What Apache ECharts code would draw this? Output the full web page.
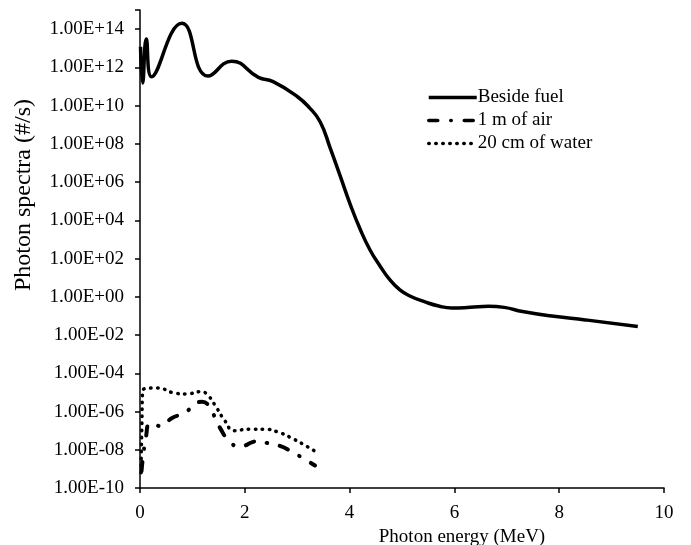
<!DOCTYPE html>
<html>
<head>
<meta charset="utf-8">
<script src="https://cdn.jsdelivr.net/npm/echarts@6/dist/echarts.min.js"></script>
<style>html,body{margin:0;padding:0;background:#fff}#c{width:691px;height:545px}</style>
</head>
<body>
<div id="c"></div>
<script>
// Photon energy (MeV) and spectra (#/s)
const fuelEnergy = [0.01, 0.05, 0.12, 0.22, 0.80, 1.30, 1.75, 2.26, 2.54, 3.00, 3.24, 3.44, 3.63, 3.82, 4.01, 4.20, 4.39, 4.58, 4.77, 4.96, 5.15, 5.44, 5.70, 5.95, 6.30, 6.65, 6.95, 7.30, 7.90, 8.50, 9.50];
const fuelValue  = [1.2e13, 1.5e11, 3.0e13, 3.2e11, 2.0e14, 3.5e11, 2.1e12, 3.0e11, 1.8e11, 3.0e10, 7.4e9, 1.4e9, 6.0e7, 2.1e6, 7.1e4, 3.5e3, 2.8e2, 41, 7.6, 2.3, 1.1, 0.54, 0.33, 0.26, 0.28, 0.32, 0.28, 0.17, 0.095, 0.062, 0.028];

const airEnergy = [0.03, 0.115, 0.20, 0.41, 0.605, 0.86, 1.05, 1.18, 1.30, 1.43, 1.54, 1.69, 1.90, 2.16, 2.29, 2.41, 2.67, 2.90, 3.12, 3.34];
const airValue  = [8.0e-10, 4.8e-8, 2.4e-7, 1.7e-7, 4.5e-7, 8.7e-7, 2.5e-6, 3.2e-6, 2.2e-6, 5.0e-7, 1.2e-7, 3.2e-8, 1.4e-8, 2.6e-8, 2.9e-8, 2.3e-8, 1.6e-8, 7.9e-9, 3.5e-9, 1.5e-9];

const waterEnergy = [0.02, 0.035, 0.06, 0.35, 0.62, 0.89, 1.16, 1.29, 1.46, 1.61, 1.80, 2.09, 2.37, 2.64, 2.90, 3.15, 3.40];
const waterValue  = [6.3e-10, 1.6e-7, 1.4e-5, 1.7e-5, 9.8e-6, 8.3e-6, 1.1e-5, 7.4e-6, 1.6e-6, 3.6e-7, 1.0e-7, 1.2e-7, 1.2e-7, 8.3e-8, 4.0e-8, 1.7e-8, 6.6e-9];

const seriesNames = ['Beside fuel', '1 m of air', '20 cm of water'];
const xTicks = [0, 2, 4, 6, 8, 10];

function pairs(xs, ys) { return xs.map((x, i) => [x, ys[i]]); }

const FONT = 'Liberation Serif';
const chart = echarts.init(document.getElementById('c'));
chart.setOption({
  animation: false,
  backgroundColor: '#fff',
  textStyle: { fontFamily: FONT, color: '#000' },
  grid: { left: 140, right: 27, top: 10, bottom: 57, containLabel: false, outerBoundsMode: 'none' },
  legend: {
    orient: 'vertical',
    left: 427, top: 88, padding: 0,
    itemWidth: 48, itemHeight: 14, itemGap: 4,
    itemStyle: { color: 'rgba(0,0,0,0)', borderWidth: 0, opacity: 0 },
    lineStyle: { width: 3.5 },
    textStyle: { fontFamily: FONT, fontSize: 19, color: '#000', padding: [0, 0, 0, -4] },
    data: seriesNames
  },
  xAxis: {
    type: 'value', min: xTicks[0], max: xTicks[xTicks.length - 1], interval: 2,
    name: 'Photon energy (MeV)', nameLocation: 'middle', nameGap: 38,
    nameTextStyle: { fontFamily: FONT, fontSize: 19, color: '#000', padding: [0, 0, 0, 120] },
    axisLine: { lineStyle: { color: '#000', width: 1.5 } },
    axisTick: { show: true, inside: false, length: 5, lineStyle: { color: '#000', width: 1.5 } },
    axisLabel: { fontFamily: FONT, fontSize: 19, color: '#000', margin: 16 },
    splitLine: { show: false }
  },
  yAxis: {
    type: 'log', logBase: 10, min: 1e-10, max: 1e15, interval: 2,
    name: 'Photon spectra (#/s)', nameLocation: 'middle', nameGap: 104, nameRotate: 90,
    nameTextStyle: { fontFamily: FONT, fontSize: 24, color: '#000', padding: [0, 0, 0, 108] },
    axisLine: { show: true, lineStyle: { color: '#000', width: 1.5 } },
    axisTick: { show: true, inside: false, length: 5, lineStyle: { color: '#000', width: 1.5 } },
    axisLabel: {
      fontFamily: FONT, fontSize: 19, color: '#000', margin: 16,
      formatter: function (v) {
        const l = Math.log10(v);
        const e = Math.round(l);
        if (Math.abs(l - e) > 1e-6 || e % 2 !== 0) return '';
        return '1.00E' + (e >= 0 ? '+' : '-') + String(Math.abs(e)).padStart(2, '0');
      }
    },
    splitLine: { show: false }
  },
  series: [
    {
      name: seriesNames[0], type: 'line', smooth: true, showSymbol: false, symbol: 'none',
      data: pairs(fuelEnergy, fuelValue),
      lineStyle: { color: '#000', width: 3.5 }, itemStyle: { color: '#000' }
    },
    {
      name: seriesNames[1], type: 'line', smooth: true, showSymbol: false, symbol: 'none',
      data: pairs(airEnergy, airValue),
      lineStyle: { color: '#000', width: 4, type: [9, 13, 0.5, 13], cap: 'round' }, itemStyle: { color: '#000' }
    },
    {
      name: seriesNames[2], type: 'line', smooth: true, showSymbol: false, symbol: 'none',
      data: pairs(waterEnergy, waterValue),
      lineStyle: { color: '#000', width: 3.5, type: [0.5, 6.5], cap: 'round' }, itemStyle: { color: '#000' }
    }
  ]
});
</script>
</body>
</html>
